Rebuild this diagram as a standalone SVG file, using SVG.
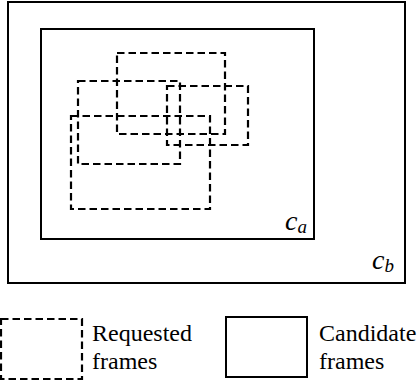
<svg xmlns="http://www.w3.org/2000/svg" width="419" height="381" viewBox="0 0 419 381">
  <style>
    .cand { fill: none; stroke: #000; stroke-width: 2; }
    .req { fill: none; stroke: #000; stroke-width: 2.2; stroke-dasharray: 7.5 4; }
    .lbl { font-size: 24px; fill: #000; }
    .math { font-style: italic; fill: #000; }
  </style>
  <rect width="419" height="381" fill="#fff"/>

  <!-- candidate frame c_b -->
  <g id="frame-cb">
    <rect class="cand" x="8" y="2" width="397" height="281"/>
    <text class="math" font-family="'Liberation Serif', 'Times New Roman', 'DejaVu Serif', serif" x="372" y="269" font-size="28">c<tspan font-size="19" dy="3">b</tspan></text>
  </g>

  <!-- candidate frame c_a -->
  <g id="frame-ca">
    <rect class="cand" x="41" y="29" width="273" height="210"/>
    <text class="math" font-family="'Liberation Serif', 'Times New Roman', 'DejaVu Serif', serif" x="285" y="230" font-size="28">c<tspan font-size="19" dy="3">a</tspan></text>
  </g>

  <!-- requested frames -->
  <g id="requested-frames">
    <rect class="req" x="117" y="53" width="108" height="81"/>
    <rect class="req" x="78" y="81" width="102" height="83"/>
    <rect class="req" x="167" y="86" width="81" height="59"/>
    <rect class="req" x="71" y="116" width="139" height="93"/>
  </g>

  <!-- legend -->
  <g id="legend-requested">
    <rect class="req" x="1" y="319" width="81" height="60"/>
    <text class="lbl" font-family="'Liberation Serif', 'Times New Roman', 'DejaVu Serif', serif" x="92" y="341">Requested</text>
    <text class="lbl" font-family="'Liberation Serif', 'Times New Roman', 'DejaVu Serif', serif" x="92" y="369">frames</text>
  </g>
  <g id="legend-candidate">
    <rect class="cand" x="226" y="317" width="81" height="60"/>
    <text class="lbl" font-family="'Liberation Serif', 'Times New Roman', 'DejaVu Serif', serif" x="319" y="341">Candidate</text>
    <text class="lbl" font-family="'Liberation Serif', 'Times New Roman', 'DejaVu Serif', serif" x="319" y="369">frames</text>
  </g>
</svg>
